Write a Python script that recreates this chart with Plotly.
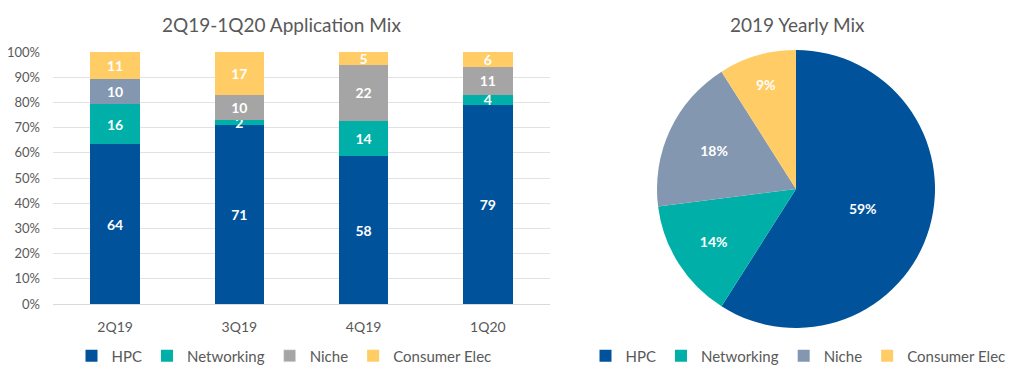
import plotly.graph_objects as go

quarters = ["2Q19", "3Q19", "4Q19", "1Q20"]
hpc = [64, 71, 58, 79]
networking = [16, 2, 14, 4]
niche = [10, 10, 22, 11]
consumer = [11, 17, 5, 6]

pie_labels = ["HPC", "Networking", "Niche", "Consumer Elec"]
pie_values = [59, 14, 18, 9]

C_HPC = "#00539B"
C_NET = "#00B0A8"
C_NICHE = "#A5A5A5"
C_NICHE2 = "#8497B0"
C_CE = "#FFCC66"
TXT = "#595959"
FONT = "Lato, Open Sans, sans-serif"

niche_colors = [C_NICHE2, C_NICHE, C_NICHE, C_NICHE]

W, H = 1030, 378
OFF = 8  # page body margin offset


def fx(px):
    return (px - OFF) / W


def fy(py):
    return (H - (py - OFF)) / H


fig = go.Figure()


def bar(name, vals, color, showlegend=True):
    return go.Bar(
        x=quarters, y=vals, name=name,
        marker=dict(color=color, line=dict(width=0)),
        text=[str(v) for v in vals], textposition="inside",
        insidetextanchor="middle", textangle=0, constraintext="none",
        textfont=dict(color="white", size=14, family=FONT, weight="bold"),
        showlegend=showlegend, legend="legend", hoverinfo="skip",
    )


fig.add_trace(bar("HPC", hpc, C_HPC))
fig.add_trace(bar("Networking", networking, C_NET))
fig.add_trace(bar("Niche", niche, niche_colors, showlegend=False))
fig.add_trace(go.Bar(x=[quarters[0]], y=[None], name="Niche",
                     marker=dict(color=C_NICHE), legend="legend"))
fig.add_trace(bar("Consumer Elec", consumer, C_CE))

fig.add_trace(go.Pie(
    labels=pie_labels, values=pie_values, sort=False, direction="clockwise", rotation=0,
    marker=dict(colors=[C_HPC, C_NET, C_NICHE2, C_CE], line=dict(width=0)),
    textinfo="percent", texttemplate="%{percent:.0%}", textposition="inside",
    insidetextorientation="horizontal",
    textfont=dict(color="white", size=14, family=FONT, weight="bold"),
    domain=dict(x=[fx(657), fx(935)], y=[fy(328), fy(50)]),
    legend="legend2", hoverinfo="skip",
))

fig.update_layout(
    width=W, height=H,
    margin=dict(l=0, r=0, t=0, b=0, autoexpand=False),
    paper_bgcolor="white", plot_bgcolor="white",
    barmode="stack", barnorm="percent", bargap=0.6,
    font=dict(family=FONT, color=TXT, size=14),
    xaxis=dict(domain=[fx(53), fx(550)], showgrid=False, showline=False,
               ticks="", tickfont=dict(size=14, color=TXT), ticklabelstandoff=13,
               fixedrange=True, automargin=False),
    yaxis=dict(domain=[fy(304), fy(52)], range=[0, 100], dtick=10,
               ticksuffix="%", showgrid=True, gridcolor="#E2E2E2", gridwidth=1,
               zeroline=True, zerolinecolor="#D9D9D9", zerolinewidth=1,
               tickfont=dict(size=13, color=TXT), ticklabelstandoff=12,
               fixedrange=True, automargin=False),
    legend=dict(orientation="h", x=fx(284), xanchor="center", y=fy(356),
                yanchor="middle", font=dict(size=15, color=TXT), traceorder="normal",
                itemwidth=30, bgcolor="rgba(0,0,0,0)"),
    legend2=dict(orientation="h", x=fx(798), xanchor="center", y=fy(356),
                 yanchor="middle", font=dict(size=15, color=TXT),
                 itemwidth=30, bgcolor="rgba(0,0,0,0)"),
    annotations=[
        dict(text="2Q19-1Q20 Application Mix", x=fx(281), y=fy(24),
             xref="paper", yref="paper", showarrow=False, xanchor="center",
             yanchor="middle", font=dict(size=19, color=TXT)),
        dict(text="2019 Yearly Mix", x=fx(797), y=fy(24),
             xref="paper", yref="paper", showarrow=False, xanchor="center",
             yanchor="middle", font=dict(size=19, color=TXT)),
    ],
)

fig.write_html("out.html")
